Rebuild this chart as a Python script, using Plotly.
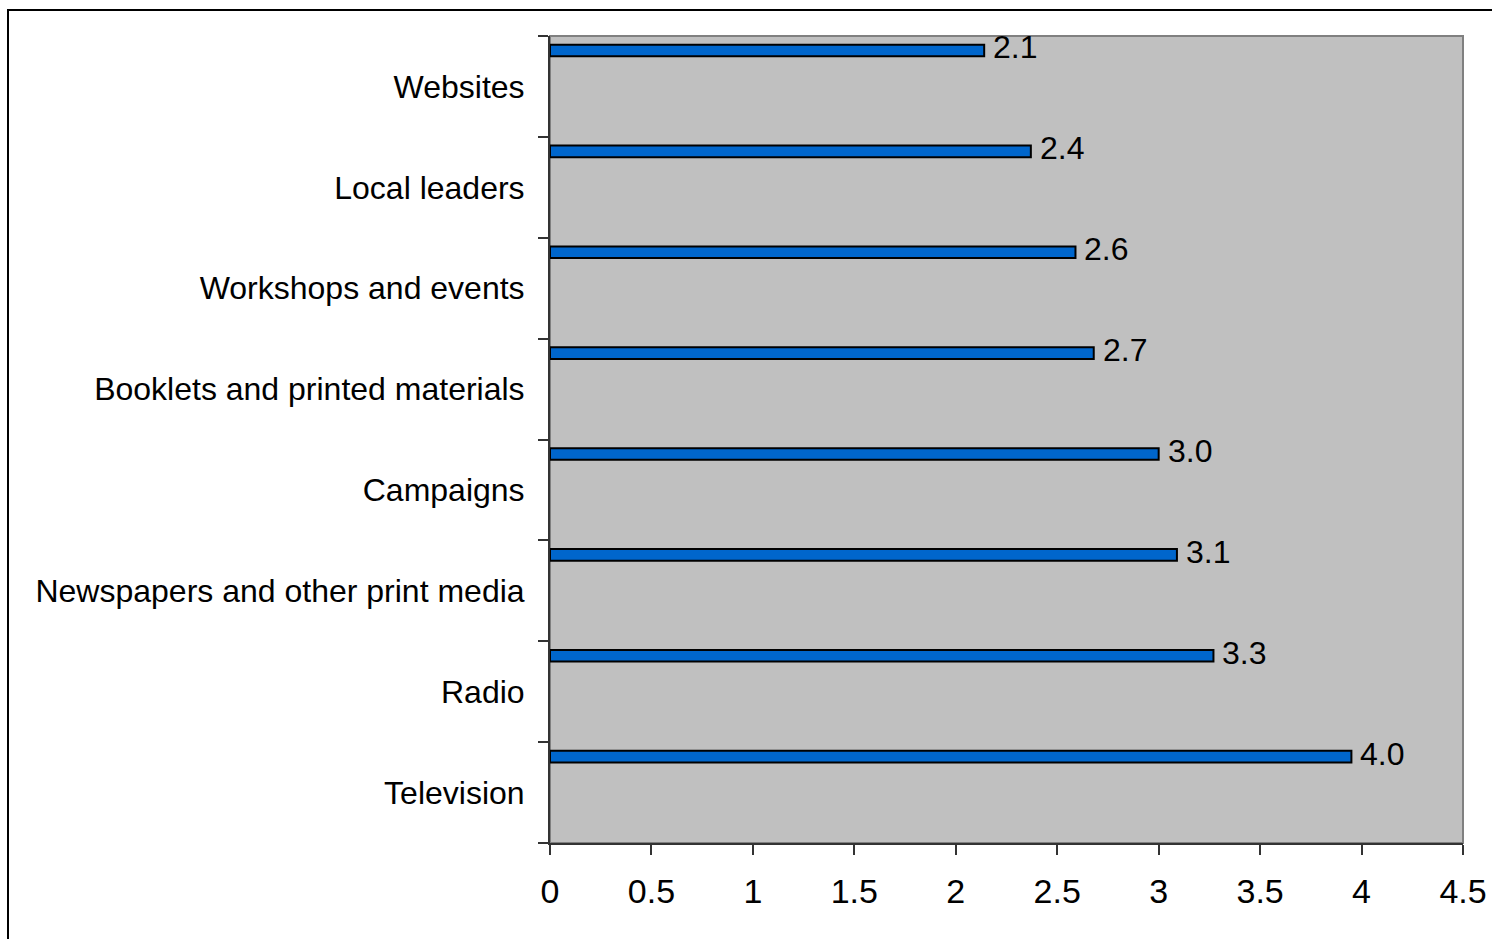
import plotly.graph_objects as go

# Channels, listed bottom to top as they appear on the vertical axis
channels = [
    "Television",
    "Radio",
    "Newspapers and other print media",
    "Campaigns",
    "Booklets and printed materials",
    "Workshops and events",
    "Local leaders",
    "Websites",
]
scores = [3.95, 3.27, 3.09, 3.00, 2.68, 2.59, 2.37, 2.14]
x_ticks = [0, 0.5, 1, 1.5, 2, 2.5, 3, 3.5, 4, 4.5]

FONT = "Liberation Sans, Arial, sans-serif"

W, H = 1492, 939
ML, MR, MT, MB = 550, 29, 36, 96
plot_w = W - ML - MR
plot_h = H - MT - MB

fig = go.Figure()

# Thin bars sitting near the top of each category band
fig.add_trace(go.Bar(
    y=channels,
    x=scores,
    orientation="h",
    width=0.115,
    offset=0.299,
    marker=dict(color="#0066CC", line=dict(color="#000000", width=2)),
    hoverinfo="x+y",
    showlegend=False,
))

# Value labels just past the end of each bar
for i, (name, v) in enumerate(zip(channels, scores)):
    fig.add_annotation(
        x=v, y=i + 0.299 + 0.0575 + 0.03,
        xref="x", yref="y",
        text=f"{v:.1f}",
        showarrow=False,
        xanchor="left", yanchor="middle",
        xshift=7,
        font=dict(family=FONT, size=32, color="#000000"),
    )

def px_to_paper_x(px):
    return (px - ML) / plot_w

def px_to_paper_y(py):
    return (H - MB - py) / plot_h

shapes = [
    # grey border of the plotting area
    dict(type="rect", xref="paper", yref="paper", x0=0, x1=1, y0=0, y1=1,
         line=dict(color="#808080", width=2), fillcolor="rgba(0,0,0,0)", layer="below"),
    # outer chart frame
    dict(type="rect", xref="paper", yref="paper",
         x0=px_to_paper_x(8), x1=px_to_paper_x(1510),
         y0=px_to_paper_y(960), y1=px_to_paper_y(10),
         line=dict(color="#000000", width=2), fillcolor="rgba(0,0,0,0)", layer="above"),
]

fig.update_layout(
    width=W, height=H,
    margin=dict(l=ML, r=MR, t=MT, b=MB, pad=0, autoexpand=False),
    paper_bgcolor="#FFFFFF",
    plot_bgcolor="#C0C0C0",
    font=dict(family=FONT, size=32, color="#000000"),
    shapes=shapes,
    xaxis=dict(
        range=[0, 4.5],
        automargin=False,
        tickmode="array", tickvals=x_ticks,
        ticktext=[f"{t:g}" for t in x_ticks],
        ticks="outside", ticklen=10, tickwidth=1.5, tickcolor="#333333",
        showline=True, linecolor="#333333", linewidth=2,
        showgrid=False, zeroline=False,
        tickfont=dict(family=FONT, size=34, color="#000000"),
        ticklabelstandoff=7,
    ),
    yaxis=dict(
        type="category",
        automargin=False,
        categoryorder="array", categoryarray=channels,
        range=[-0.5, len(channels) - 0.5],
        tickson="boundaries",
        ticks="outside", ticklen=10, tickwidth=1.5, tickcolor="#333333",
        showline=True, linecolor="#333333", linewidth=2,
        showgrid=False, zeroline=False,
        tickfont=dict(family=FONT, size=32, color="#000000"),
        ticklabelstandoff=17,
    ),
)

fig.write_html("out.html")
